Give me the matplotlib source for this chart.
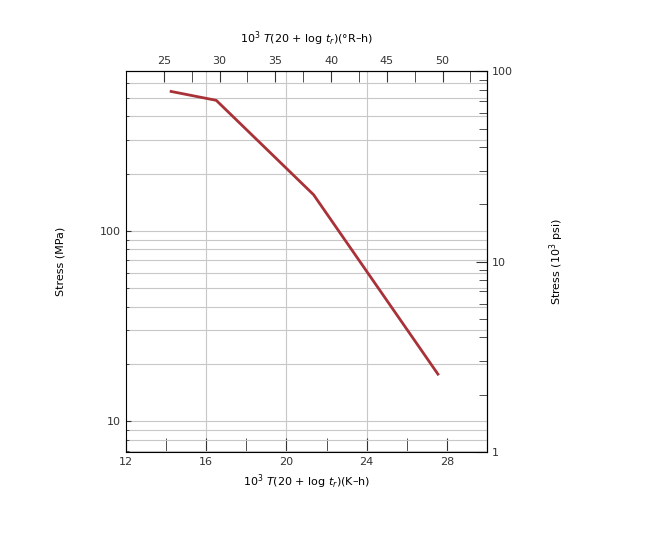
import matplotlib
matplotlib.use("Agg")
import matplotlib.pyplot as plt
from matplotlib.ticker import LogLocator, NullFormatter, FixedLocator, FuncFormatter

lmp_K = [14.25, 16.5, 21.35, 27.55]
stress_mpa = [540, 485, 155, 17.7]
bottom_ticks = [12, 16, 20, 24, 28]
top_ticks = [25, 30, 35, 40, 45, 50]

MPA_PER_KSI = 6.895
fig = plt.figure(figsize=(6.46, 5.48), dpi=100)
ax = fig.add_axes([0.195, 0.175, 0.559, 0.695])
ax.plot(lmp_K, stress_mpa, color="#a83238", lw=2)
ax.set_yscale("log")
ax.set_xlim(12, 30)
ax.set_ylim(1 * MPA_PER_KSI, 100 * MPA_PER_KSI)
ax.xaxis.set_major_locator(FixedLocator(bottom_ticks))
ax.xaxis.set_minor_locator(FixedLocator([14, 18, 22, 26]))
ax.tick_params(axis="both", which="both", direction="in", labelsize=8, colors="#333333")
ax.tick_params(axis="x", which="major", length=10)
ax.tick_params(axis="x", which="minor", length=10)
ax.yaxis.set_major_formatter(FuncFormatter(lambda v, p: f"{v:g}"))
ax.yaxis.set_minor_formatter(NullFormatter())
ax.grid(True, which="both", axis="y", color="#c8c8c8", lw=0.8)
for xv in [16, 20, 24]:
    ax.axvline(xv, color="#c8c8c8", lw=0.8, zorder=0)
ax.set_xlabel(r"10$^3$ $T$(20 + log $t_r$)(K–h)", fontsize=8)
ax.set_ylabel("Stress (MPa)", fontsize=8, labelpad=25)

sec = ax.secondary_xaxis("top", functions=(lambda k: k * 1.8, lambda r: r / 1.8))
sec.xaxis.set_major_locator(FixedLocator(top_ticks))
sec.xaxis.set_minor_locator(FixedLocator([27.5, 32.5, 37.5, 42.5, 47.5, 52.5]))
sec.tick_params(which="both", direction="in", length=8, labelsize=8, colors="#333333")
sec.set_xlabel(r"10$^3$ $T$(20 + log $t_r$)(°R–h)", fontsize=8, labelpad=10)

secy = ax.secondary_yaxis("right", functions=(lambda m: m / MPA_PER_KSI, lambda k: k * MPA_PER_KSI))
secy.set_yscale("log")
secy.yaxis.set_major_formatter(FuncFormatter(lambda v, p: f"{v:g}"))
secy.yaxis.set_minor_formatter(NullFormatter())
secy.tick_params(which="both", direction="in", labelsize=8, colors="#333333")
secy.tick_params(which="major", length=8)
secy.tick_params(which="minor", length=6)
secy.set_ylabel(r"Stress (10$^3$ psi)", fontsize=8, labelpad=25)
fig.savefig("out.png")
